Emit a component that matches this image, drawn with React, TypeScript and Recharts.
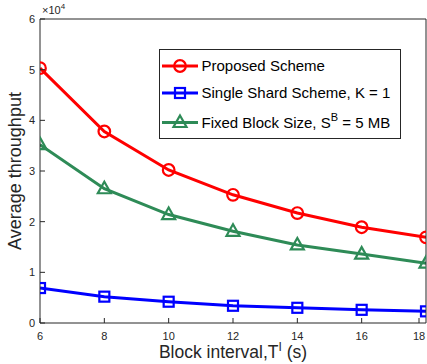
import { LineChart, Line, XAxis, YAxis, Label } from 'recharts';

const blockIntervals = [6, 8, 10, 12, 14, 16, 18];
const proposedScheme = [50300, 37800, 30200, 25300, 21700, 18900, 16900];
const singleShardScheme = [6900, 5200, 4200, 3400, 3000, 2600, 2300];
const fixedBlockSize = [35200, 26500, 21400, 18100, 15400, 13600, 11800];
const xTicks = [6, 8, 10, 12, 14, 16, 18];
const yTicks = [0, 10000, 20000, 30000, 40000, 50000, 60000];

const data = blockIntervals.map((t, i) => ({
  t,
  proposed: proposedScheme[i],
  single: singleShardScheme[i],
  fixed: fixedBlockSize[i],
}));

const RED = '#ff0000';
const BLUE = '#0000ff';
const GREEN = '#2e8b57';
const AXIS = '#262626';
const FONT = '"Liberation Sans", Arial, sans-serif';

const CircleDot = (p: any) => (
  <circle key={p.index} cx={p.cx} cy={p.cy} r={5.8} fill="none" stroke={RED} strokeWidth={2.2} />
);
const SquareDot = (p: any) => (
  <rect key={p.index} x={p.cx - 5} y={p.cy - 5} width={10} height={10} fill="none" stroke={BLUE} strokeWidth={2.2} />
);
const TriangleDot = (p: any) => (
  <polygon
    key={p.index}
    points={`${p.cx},${p.cy - 7} ${p.cx + 6.5},${p.cy + 4.5} ${p.cx - 6.5},${p.cy + 4.5}`}
    fill="none"
    stroke={GREEN}
    strokeWidth={2.2}
  />
);

// tick labels outside, tick marks pointing in (matlab style)
const XTick = (p: any) => (
  <g>
    <line x1={p.x} x2={p.x} y1={p.y - 8} y2={p.y - 13} stroke={AXIS} />
    <text x={p.x} y={p.y} dy={9} textAnchor="middle" fontSize={11} fill={AXIS} fontFamily={FONT}>
      {p.payload.value}
    </text>
  </g>
);
const YTick = (p: any) => (
  <g>
    <line x1={p.x + 5} x2={p.x + 10} y1={p.y} y2={p.y} stroke={AXIS} />
    <text x={p.x} y={p.y} dy={4} textAnchor="end" fontSize={11} fill={AXIS} fontFamily={FONT}>
      {p.payload.value / 10000}
    </text>
  </g>
);

const legendItems = [
  { name: 'Proposed Scheme', color: RED, Dot: CircleDot, cy: 66 },
  { name: 'Single Shard Scheme, K = 1', color: BLUE, Dot: SquareDot, cy: 93 },
  { name: 'Fixed Block Size, S', sup: 'B', tail: ' = 5 MB', color: GREEN, Dot: TriangleDot, cy: 122.5 },
];

function LegendBox() {
  return (
    <svg width={427} height={364} style={{ position: 'absolute', left: 0, top: 0, pointerEvents: 'none' }}>
      <rect x={159.5} y={49.5} width={241} height={89} fill="#fff" stroke={AXIS} strokeWidth={1} />
      {legendItems.map((it) => (
        <g key={it.name}>
          <line x1={162} x2={198} y1={it.cy} y2={it.cy} stroke={it.color} strokeWidth={3} />
          <it.Dot cx={180} cy={it.cy} />
          <text x={201.5} y={it.cy + 5.4} fontSize={15} fill="#000" fontFamily={FONT}>
            {it.name}
            {it.sup && (
              <tspan dy={-7} fontSize={11}>
                {it.sup}
              </tspan>
            )}
            {it.tail && <tspan dy={7}>{it.tail}</tspan>}
          </text>
        </g>
      ))}
    </svg>
  );
}

export default function App() {
  return (
    <div style={{ position: 'absolute', left: 0, top: 0, width: 427, height: 364, background: '#fff' }}>
      <LineChart width={427} height={364} data={data} margin={{ top: 19, right: 1, left: 0, bottom: 0 }}>
        <XAxis
          dataKey="t"
          type="number"
          domain={[6, 18]}
          ticks={xTicks}
          tickSize={0}
          tickMargin={8}
          tick={<XTick />}
          height={41}
          stroke={AXIS}
          allowDataOverflow
        >
          <Label
            content={(p: any) => (
              <text
                x={p.viewBox.x + p.viewBox.width / 2}
                y={p.viewBox.y + 35}
                textAnchor="middle"
                fontSize={17.5}
                fill={AXIS}
                fontFamily={FONT}
              >
                Block interval,T
                <tspan dy={-7} fontSize={12}>I</tspan>
                <tspan dy={7}> (s)</tspan>
              </text>
            )}
          />
        </XAxis>
        <XAxis xAxisId="top" orientation="top" dataKey="t" type="number" domain={[6, 18]} ticks={xTicks} mirror tick={false} tickSize={5} stroke={AXIS} />
        <YAxis
          type="number"
          domain={[0, 60000]}
          ticks={yTicks}
          tickSize={0}
          tickMargin={5}
          tick={<YTick />}
          width={40}
          stroke={AXIS}
        >
          <Label
            content={(p: any) => (
              <text
                transform={`translate(21, ${p.viewBox.y + p.viewBox.height / 2}) rotate(-90)`}
                textAnchor="middle"
                fontSize={18}
                fill={AXIS}
                fontFamily={FONT}
              >
                Average throughput
              </text>
            )}
          />
          <Label
            content={(p: any) => (
              <text x={p.viewBox.x + 42} y={p.viewBox.y - 5} fontSize={11} fill={AXIS} fontFamily={FONT}>
                ×10
                <tspan dy={-5} fontSize={8}>4</tspan>
              </text>
            )}
          />
        </YAxis>
        <YAxis yAxisId="right" orientation="right" type="number" domain={[0, 60000]} ticks={yTicks} mirror tick={false} tickSize={5} stroke={AXIS} />
        <Line dataKey="proposed" stroke={RED} strokeWidth={3} dot={CircleDot} isAnimationActive={false} />
        <Line dataKey="single" stroke={BLUE} strokeWidth={3} dot={SquareDot} isAnimationActive={false} />
        <Line dataKey="fixed" stroke={GREEN} strokeWidth={3} dot={TriangleDot} isAnimationActive={false} />
      </LineChart>
      <LegendBox />
    </div>
  );
}
